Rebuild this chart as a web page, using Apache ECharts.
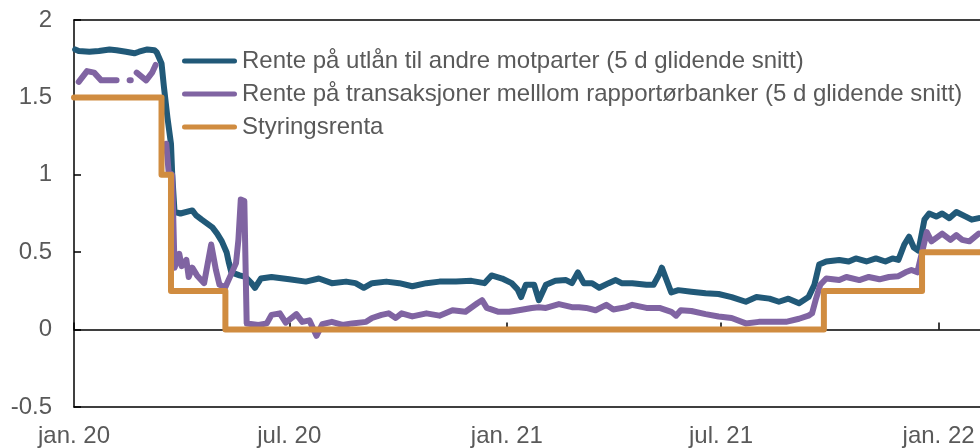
<!DOCTYPE html>
<html>
<head>
<meta charset="utf-8">
<script src="https://cdn.jsdelivr.net/npm/echarts@6/dist/echarts.min.js"></script>
<style>
  html, body { margin: 0; padding: 0; background: #ffffff; }
  #chart { width: 980px; height: 448px; }
</style>
</head>
<body>
<div id="chart"></div>
<script>
// Series names as shown in the legend
const seriesNames = [
  'Rente på utlån til andre motparter (5 d glidende snitt)',
  'Rente på transaksjoner melllom rapportørbanker (5 d glidende snitt)',
  'Styringsrenta'
];

// X axis range and tick labels
const axisStart = '2020-01-01';
const axisEnd = '2022-02-05';
const tickDates = ['2020-01-01', '2020-07-01', '2021-01-01', '2021-07-01', '2022-01-01'];
const tickLabels = ['jan. 20', 'jul. 20', 'jan. 21', 'jul. 21', 'jan. 22'];

// Y axis
const yMin = -0.5;
const yMax = 2;
const yStep = 0.5;

// Lending rate to other counterparties, 5-day moving average (percent)
const lendingRate = [
  ['2020-01-02', 1.81], ['2020-01-05', 1.80], ['2020-01-14', 1.795], ['2020-01-22', 1.80],
  ['2020-01-31', 1.81], ['2020-02-06', 1.805], ['2020-02-14', 1.795], ['2020-02-21', 1.785],
  ['2020-02-25', 1.795], ['2020-03-03', 1.81], ['2020-03-09', 1.805], ['2020-03-11', 1.79],
  ['2020-03-15', 1.72], ['2020-03-17', 1.57], ['2020-03-20', 1.37], ['2020-03-23', 1.20],
  ['2020-03-24', 1.01], ['2020-03-26', 0.76], ['2020-03-31', 0.75], ['2020-04-10', 0.77],
  ['2020-04-13', 0.74], ['2020-04-18', 0.71], ['2020-04-27', 0.66], ['2020-05-01', 0.62],
  ['2020-05-05', 0.57], ['2020-05-09', 0.50], ['2020-05-11', 0.43], ['2020-05-13', 0.37],
  ['2020-05-20', 0.35], ['2020-05-25', 0.34], ['2020-05-30', 0.30], ['2020-06-02', 0.27],
  ['2020-06-07', 0.33], ['2020-06-16', 0.34], ['2020-07-01', 0.325], ['2020-07-15', 0.31],
  ['2020-07-26', 0.33], ['2020-08-06', 0.30], ['2020-08-18', 0.31], ['2020-08-26', 0.30],
  ['2020-09-02', 0.27], ['2020-09-09', 0.30], ['2020-09-21', 0.31], ['2020-10-02', 0.30],
  ['2020-10-13', 0.28], ['2020-10-25', 0.30], ['2020-11-05', 0.31], ['2020-11-19', 0.31],
  ['2020-12-02', 0.315], ['2020-12-13', 0.30], ['2020-12-19', 0.35], ['2020-12-28', 0.33],
  ['2021-01-05', 0.30], ['2021-01-10', 0.26], ['2021-01-13', 0.21], ['2021-01-17', 0.29],
  ['2021-01-24', 0.29], ['2021-01-28', 0.19], ['2021-02-03', 0.29], ['2021-02-11', 0.315],
  ['2021-02-20', 0.32], ['2021-02-25', 0.30], ['2021-03-02', 0.37], ['2021-03-07', 0.30],
  ['2021-03-14', 0.30], ['2021-03-20', 0.27], ['2021-03-28', 0.30], ['2021-04-03', 0.32],
  ['2021-04-08', 0.30], ['2021-04-17', 0.30], ['2021-04-29', 0.29], ['2021-05-05', 0.29],
  ['2021-05-10', 0.36], ['2021-05-12', 0.40], ['2021-05-15', 0.34], ['2021-05-20', 0.24],
  ['2021-05-26', 0.255], ['2021-06-06', 0.245], ['2021-06-18', 0.235], ['2021-06-29', 0.23],
  ['2021-07-10', 0.21], ['2021-07-22', 0.18], ['2021-07-31', 0.21], ['2021-08-11', 0.20],
  ['2021-08-19', 0.18], ['2021-08-27', 0.20], ['2021-09-05', 0.17], ['2021-09-13', 0.21],
  ['2021-09-18', 0.29], ['2021-09-22', 0.42], ['2021-09-28', 0.44], ['2021-10-09', 0.45],
  ['2021-10-17', 0.44], ['2021-10-23', 0.46], ['2021-11-01', 0.44], ['2021-11-09', 0.46],
  ['2021-11-17', 0.44], ['2021-11-23', 0.46], ['2021-11-28', 0.45], ['2021-12-03', 0.55],
  ['2021-12-07', 0.60], ['2021-12-11', 0.53], ['2021-12-15', 0.51], ['2021-12-20', 0.71],
  ['2021-12-24', 0.75], ['2021-12-30', 0.73], ['2022-01-04', 0.75], ['2022-01-10', 0.72],
  ['2022-01-16', 0.76], ['2022-01-24', 0.73], ['2022-01-29', 0.71], ['2022-02-04', 0.72]
];

// Interbank transaction rate between reporting banks, 5-day moving average (percent); null = no data
const interbankRate = [
  ['2020-01-05', 1.60], ['2020-01-12', 1.67], ['2020-01-18', 1.66], ['2020-01-24', 1.61],
  ['2020-02-01', 1.61], ['2020-02-06', 1.61], ['2020-02-11', null],
  ['2020-02-17', 1.61], ['2020-02-18', 1.61], ['2020-02-20', null],
  ['2020-02-23', 1.66], ['2020-03-02', 1.61], ['2020-03-07', 1.66], ['2020-03-10', 1.71],
  ['2020-03-14', null],
  ['2020-03-19', 1.20], ['2020-03-21', 1.02], ['2020-03-24', 1.00], ['2020-03-26', 0.40],
  ['2020-03-30', 0.49], ['2020-04-01', 0.41], ['2020-04-05', 0.45], ['2020-04-07', 0.34],
  ['2020-04-10', 0.40], ['2020-04-14', 0.35], ['2020-04-20', 0.30], ['2020-04-26', 0.55],
  ['2020-04-30', 0.385], ['2020-05-03', 0.29], ['2020-05-08', 0.275], ['2020-05-13', 0.36],
  ['2020-05-17', 0.43], ['2020-05-19', 0.58], ['2020-05-21', 0.84], ['2020-05-24', 0.83],
  ['2020-05-26', 0.04], ['2020-06-05', 0.03], ['2020-06-12', 0.04], ['2020-06-16', 0.095],
  ['2020-06-23', 0.105], ['2020-06-28', 0.045], ['2020-07-07', 0.10], ['2020-07-12', 0.05],
  ['2020-07-18', 0.06], ['2020-07-24', -0.04], ['2020-07-29', 0.035], ['2020-08-06', 0.05],
  ['2020-08-15', 0.03], ['2020-08-23', 0.04], ['2020-09-04', 0.05], ['2020-09-09', 0.075],
  ['2020-09-17', 0.095], ['2020-09-23', 0.105], ['2020-09-29', 0.075], ['2020-10-04', 0.105],
  ['2020-10-13', 0.085], ['2020-10-25', 0.105], ['2020-11-05', 0.09], ['2020-11-16', 0.125],
  ['2020-11-27', 0.115], ['2020-12-07', 0.17], ['2020-12-11', 0.19], ['2020-12-15', 0.14],
  ['2020-12-25', 0.115], ['2021-01-03', 0.115], ['2021-01-11', 0.125], ['2021-01-22', 0.14],
  ['2021-01-28', 0.145], ['2021-02-03', 0.14], ['2021-02-14', 0.165], ['2021-02-25', 0.145],
  ['2021-03-03', 0.145], ['2021-03-09', 0.14], ['2021-03-17', 0.125], ['2021-03-26', 0.16],
  ['2021-04-01', 0.13], ['2021-04-12', 0.145], ['2021-04-17', 0.16], ['2021-04-29', 0.14],
  ['2021-05-10', 0.14], ['2021-05-20', 0.115], ['2021-05-24', 0.09], ['2021-05-28', 0.125],
  ['2021-06-06', 0.12], ['2021-06-18', 0.10], ['2021-06-29', 0.085], ['2021-07-10', 0.075],
  ['2021-07-22', 0.04], ['2021-08-02', 0.05], ['2021-08-16', 0.05], ['2021-08-25', 0.05],
  ['2021-09-05', 0.07], ['2021-09-13', 0.09], ['2021-09-16', 0.105], ['2021-09-19', 0.19],
  ['2021-09-23', 0.29], ['2021-09-28', 0.33], ['2021-10-09', 0.32], ['2021-10-15', 0.34],
  ['2021-10-26', 0.32], ['2021-11-03', 0.34], ['2021-11-12', 0.325], ['2021-11-20', 0.34],
  ['2021-11-28', 0.345], ['2021-12-04', 0.37], ['2021-12-09', 0.385], ['2021-12-14', 0.37],
  ['2021-12-18', 0.50], ['2021-12-22', 0.63], ['2021-12-26', 0.57], ['2022-01-04', 0.62],
  ['2022-01-11', 0.58], ['2022-01-16', 0.61], ['2022-01-21', 0.58], ['2022-01-27', 0.57],
  ['2022-02-04', 0.62]
];

// Policy rate: each entry is the first day of a new level (percent)
const policyRate = [
  ['2020-01-01', 1.5], ['2020-03-15', 1.0], ['2020-03-23', 0.25], ['2020-05-08', 0],
  ['2021-09-26', 0.25], ['2021-12-18', 0.5], ['2022-02-05', 0.5]
];

const seriesColors = ['#215978', '#8064a2', '#d08c40'];

const FONT = '"Liberation Sans", Arial, sans-serif';
const TEXT = '#595959';
const AXIS = '#000000';
const FONT_SIZE = 24;
const LINE_WIDTH = 6;

const toTime = (s) => echarts.number.parseDate(s).getTime();
const tickTimes = tickDates.map(toTime);
const labelFor = (v) => {
  const i = tickTimes.indexOf(v);
  return i < 0 ? '' : tickLabels[i];
};
// date strings -> timestamps for the numeric date axis
const toPoints = (rows) => rows.map(([d, v]) => [toTime(d), v === null ? '-' : v]);

const chart = echarts.init(document.getElementById('chart'), null, { renderer: 'canvas' });

const axisLine = { color: AXIS, width: 1.5 };
const timeRange = { type: 'value', min: toTime(axisStart), max: toTime(axisEnd), scale: true };

const lineSeries = (idx, data, extra) => Object.assign({
  name: seriesNames[idx],
  type: 'line',
  data: toPoints(data),
  xAxisIndex: 0,
  yAxisIndex: 0,
  symbol: 'none',
  showSymbol: false,
  connectNulls: false,
  color: seriesColors[idx],
  lineStyle: { color: seriesColors[idx], width: LINE_WIDTH, cap: 'round', join: 'round' },
  emphasis: { disabled: true },
  silent: true,
  z: 2 + idx
}, extra || {});

chart.setOption({
  animation: false,
  backgroundColor: '#ffffff',
  grid: { left: 74, right: 0, top: 20, bottom: 41, containLabel: false },
  xAxis: [
    // bottom frame line with the date labels
    Object.assign({}, timeRange, {
      position: 'bottom',
      axisLine: { show: true, onZero: false, lineStyle: axisLine },
      axisTick: { show: false },
      splitLine: { show: false },
      axisLabel: {
        customValues: tickTimes,
        formatter: (v) => labelFor(v),
        color: TEXT, fontSize: FONT_SIZE, fontFamily: FONT, margin: 17,
        showMinLabel: true, showMaxLabel: true, hideOverlap: false
      }
    }),
    // top frame line
    Object.assign({}, timeRange, {
      position: 'top',
      axisLine: { show: true, onZero: false, lineStyle: axisLine },
      axisTick: { show: false },
      axisLabel: { show: false },
      splitLine: { show: false }
    }),
    // zero line with upward ticks
    Object.assign({}, timeRange, {
      position: 'bottom',
      axisLine: { show: true, onZero: true, onZeroAxisIndex: 0, lineStyle: axisLine },
      axisTick: { show: true, inside: true, length: 7, customValues: tickTimes, lineStyle: axisLine },
      axisLabel: { show: false },
      splitLine: { show: false }
    })
  ],
  yAxis: {
    type: 'value', min: yMin, max: yMax, interval: yStep,
    axisLine: { show: true, onZero: false, lineStyle: axisLine },
    axisTick: { show: true, inside: true, length: 7, lineStyle: axisLine },
    splitLine: { show: false },
    axisLabel: { color: TEXT, fontSize: FONT_SIZE, fontFamily: FONT, margin: 22 }
  },
  legend: {
    orient: 'vertical', left: 182, top: 49, padding: 0,
    itemGap: 9, itemWidth: 55, itemHeight: 5,
    icon: 'path://M2.5,0H52.5A2.5,2.5,0,0,1,52.5,5H2.5A2.5,2.5,0,0,1,2.5,0Z',
    selectedMode: false,
    textStyle: { color: TEXT, fontSize: FONT_SIZE, fontFamily: FONT, lineHeight: 24 },
    data: seriesNames
  },
  series: [
    lineSeries(0, lendingRate),
    lineSeries(1, interbankRate),
    lineSeries(2, policyRate, { step: 'end' })
  ]
});
</script>
</body>
</html>
